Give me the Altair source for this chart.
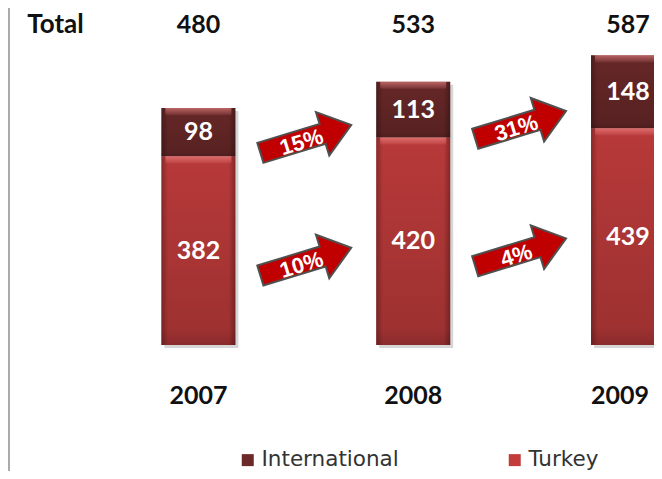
import altair as alt
import pandas as pd

# ---- data ----
years = [2007, 2008, 2009]
turkey = [382, 420, 439]
international = [98, 113, 148]
intl_growth = [15, 31]      # % labels on the upper arrows
turkey_growth = [10, 4]     # % labels on the lower arrows
series_names = ["International", "Turkey"]
series_colors = ["#6C2929", "#C23C3C"]

W, H = 646, 463

# ---- tables built from the arrays ----
seg_rows = []
for yr, t, i in zip(years, turkey, international):
    seg_rows.append({"year": yr, "series": "Turkey", "low": 0, "high": t, "value": t})
    seg_rows.append({"year": yr, "series": "International", "low": t, "high": t + i, "value": i})
seg = pd.DataFrame(seg_rows)
seg["mid"] = (seg["low"] + seg["high"]) / 2

tot = pd.DataFrame({"year": years,
                    "total": [t + i for t, i in zip(turkey, international)]})

intl_arrows = pd.DataFrame({
    "ax": [y + 0.5 for y in years[:-1]],
    "ay": [(turkey[k] + turkey[k + 1]) / 2 for k in range(len(years) - 1)],
    "label": [f"{g}%" for g in intl_growth],
})
turkey_arrows = pd.DataFrame({
    "ax": [y + 0.5 for y in years[:-1]],
    "ay": [turkey[k] / 2 for k in range(len(years) - 1)],
    "label": [f"{g}%" for g in turkey_growth],
})
header = pd.DataFrame({"label": ["Total"]})

# ---- scales ----
px_per_unit = 0.4938
zero_px = 337.0
xs = alt.Scale(domain=[2006.137, 2007 + (W - 188.3) / 218.2], nice=False, zero=False)
ys = alt.Scale(domain=[-(H - zero_px) / px_per_unit, zero_px / px_per_unit], nice=False, zero=False)

X = alt.X("year:Q", scale=xs, axis=None)
BAR_W = 74

base = alt.Chart(seg)

left_line = alt.Chart(header).mark_rule(color="#AAAAAA", strokeWidth=2).encode(
    x=alt.value(1), y=alt.value(0), y2=alt.value(H))

shadow = alt.Chart(tot).mark_bar(size=BAR_W, color="#000000", opacity=0.16,
                                 xOffset=3, yOffset=3, y2Offset=3, clip=True).encode(
    x=X, y=alt.Y("total:Q", scale=ys, axis=None), y2=alt.datum(0))

bars = base.mark_bar(size=BAR_W, clip=True).encode(
    x=X,
    y=alt.Y("low:Q", scale=ys, axis=None),
    y2="high:Q",
    color=alt.Color("series:N",
                    scale=alt.Scale(domain=series_names, range=series_colors),
                    legend=alt.Legend(orient="none", legendX=229, legendY=441,
                                      direction="horizontal", title=None,
                                      symbolType="square", symbolSize=144,
                                      symbolStrokeWidth=0,
                                      labelFont="DejaVu Sans", labelFontSize=21.5,
                                      labelColor="#333333", columnPadding=105,
                                      labelOffset=3, padding=0)),
)

edge_grad = alt.Gradient(gradient="linear", x1=0, x2=1, y1=0, y2=0, stops=[
    alt.GradientStop(offset=0, color="rgba(0,0,0,0.30)"),
    alt.GradientStop(offset=0.09, color="rgba(0,0,0,0.05)"),
    alt.GradientStop(offset=0.91, color="rgba(0,0,0,0.05)"),
    alt.GradientStop(offset=1, color="rgba(0,0,0,0.32)"),
])
vert_grad = alt.Gradient(gradient="linear", x1=0, x2=0, y1=0, y2=1, stops=[
    alt.GradientStop(offset=0, color="rgba(0,0,0,0)"),
    alt.GradientStop(offset=0.92, color="rgba(0,0,0,0.14)"),
    alt.GradientStop(offset=1, color="rgba(0,0,0,0.25)"),
])
top_grad = alt.Gradient(gradient="linear", x1=0, x2=0, y1=0, y2=1, stops=[
    alt.GradientStop(offset=0, color="rgba(255,150,150,0.55)"),
    alt.GradientStop(offset=1, color="rgba(255,150,150,0.10)"),
])

edges = base.mark_bar(size=BAR_W, clip=True, color=edge_grad).encode(
    x=X, y=alt.Y("low:Q", scale=ys), y2="high:Q")
shade = base.mark_bar(size=BAR_W, clip=True, color=vert_grad).encode(
    x=X, y=alt.Y("low:Q", scale=ys), y2="high:Q")
top_band = base.mark_bar(size=BAR_W - 8, clip=True, color=top_grad, y2Offset=7).encode(
    x=X, y=alt.Y("high:Q", scale=ys), y2="high:Q")

seg_text = base.mark_text(font="Lato", fontWeight="bold", fontSize=25,
                          color="white", baseline="middle").encode(
    x=X, y=alt.Y("mid:Q", scale=ys), text=alt.Text("value:Q", format="d"))

tot_text = alt.Chart(tot).mark_text(font="Lato", fontWeight="bold", fontSize=25,
                                    color="#111111", baseline="middle").encode(
    x=X, y=alt.value(17), text=alt.Text("total:Q", format="d"))

total_head = alt.Chart(header).mark_text(font="Lato", fontWeight="bold", fontSize=26,
                                         color="#111111", baseline="middle").encode(
    x=alt.value(47.5), y=alt.value(17), text="label:N")

last_year = years[-1]
year_text = alt.Chart(tot).transform_filter(
    alt.datum.year < last_year
).mark_text(font="Lato", fontWeight="bold", fontSize=25,
            color="#111111", baseline="middle").encode(
    x=X, y=alt.value(388), text=alt.Text("year:Q", format="d"))
# the last label sits at the clipped right edge: pull it in so it stays whole
year_text_last = alt.Chart(tot).transform_filter(
    alt.datum.year == last_year
).mark_text(font="Lato", fontWeight="bold", fontSize=25, dx=-8,
            color="#111111", baseline="middle").encode(
    x=X, y=alt.value(388), text=alt.Text("year:Q", format="d"))

ARROW = "M -1 -0.22 L 0.37 -0.22 L 0.37 -0.48 L 1 0 L 0.37 0.48 L 0.37 0.22 L -1 0.22 Z"
AX = alt.X("ax:Q", scale=xs, axis=None)


def arrow_layer(df, yoff):
    shape = alt.Chart(df).mark_point(shape=ARROW, size=9025, angle=343, filled=True,
                                     fill="#C00000", stroke="#505050", strokeWidth=2,
                                     opacity=1, yOffset=yoff).encode(
        x=AX, y=alt.Y("ay:Q", scale=ys))
    txt = alt.Chart(df).mark_text(angle=343, font="Liberation Sans", fontWeight="bold",
                                  fontSize=22, color="white", baseline="middle",
                                  dx=-5, dy=2, yOffset=yoff).encode(
        x=AX, y=alt.Y("ay:Q", scale=ys), text="label:N")
    return shape + txt


chart = alt.layer(
    left_line, shadow, bars, edges, shade, top_band, seg_text,
    tot_text, total_head, year_text, year_text_last,
    arrow_layer(intl_arrows, -8), arrow_layer(turkey_arrows, 11),
).properties(
    width=W, height=H, padding=0,
    autosize=alt.AutoSizeParams(type="none"),
).configure_view(stroke=None)

chart.save("out.html", embed_options={"renderer": "svg", "actions": False})
